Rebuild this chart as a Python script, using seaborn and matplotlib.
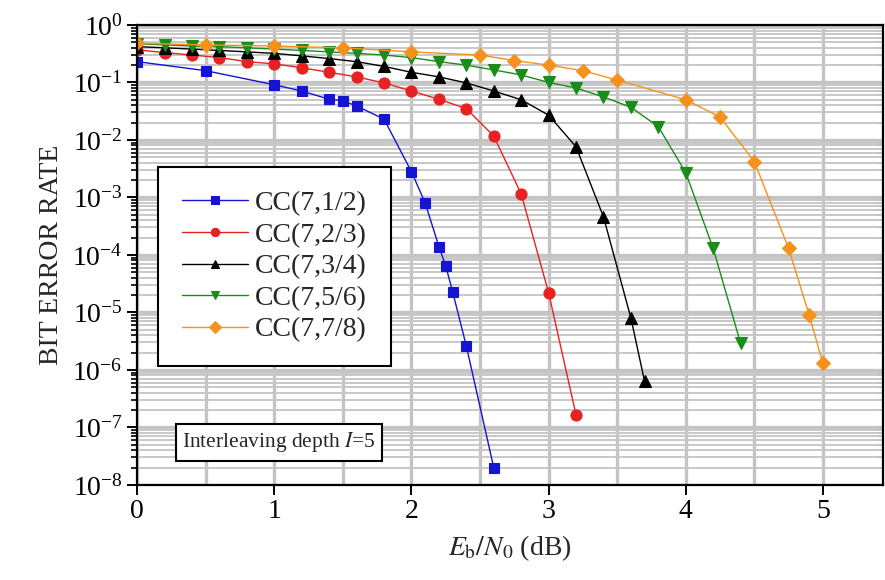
import numpy as np
import pandas as pd
import matplotlib
matplotlib.use("Agg")
import matplotlib.pyplot as plt
import matplotlib.ticker as mticker
import seaborn as sns

# Eb/N0 (dB) and BER for each code rate
snr_12 = [0, 0.5, 1.0, 1.2, 1.4, 1.5, 1.6, 1.8, 2.0, 2.1, 2.2, 2.25, 2.3, 2.4, 2.6]
ber_12 = [0.23, 0.16, 0.091, 0.071, 0.051, 0.048, 0.039, 0.023, 0.0028, 8e-4,
          1.4e-4, 6.4e-5, 2.3e-5, 2.6e-6, 2e-8]

snr_23 = [0, 0.2, 0.4, 0.6, 0.8, 1.0, 1.2, 1.4, 1.6, 1.8, 2.0, 2.2, 2.4, 2.6, 2.8, 3.0, 3.2]
ber_23 = [0.37, 0.33, 0.30, 0.27, 0.23, 0.21, 0.18, 0.15, 0.125, 0.098, 0.071,
          0.051, 0.035, 0.0117, 0.00115, 2.2e-5, 1.65e-7]

snr_34 = [0, 0.2, 0.4, 0.6, 0.8, 1.0, 1.2, 1.4, 1.6, 1.8, 2.0, 2.2, 2.4, 2.6, 2.8,
          3.0, 3.2, 3.4, 3.6, 3.7]
ber_34 = [0.42, 0.40, 0.38, 0.36, 0.34, 0.32, 0.29, 0.26, 0.23, 0.19, 0.15, 0.125,
          0.098, 0.071, 0.05, 0.027, 0.0076, 4.6e-4, 8e-6, 6.3e-7]

snr_56 = [0, 0.2, 0.4, 0.6, 0.8, 1.0, 1.2, 1.4, 1.6, 1.8, 2.0, 2.2, 2.4, 2.6, 2.8,
          3.0, 3.2, 3.4, 3.6, 3.8, 4.0, 4.2, 4.4]
ber_56 = [0.47, 0.45, 0.43, 0.42, 0.40, 0.38, 0.36, 0.34, 0.32, 0.30, 0.27, 0.23,
          0.20, 0.165, 0.135, 0.10, 0.08, 0.056, 0.037, 0.017, 0.0027, 1.3e-4, 2.9e-6]

snr_78 = [0, 0.5, 1.0, 1.5, 2.0, 2.5, 2.75, 3.0, 3.25, 3.5, 4.0, 4.25, 4.5, 4.75, 4.9, 5.0]
ber_78 = [0.48, 0.45, 0.43, 0.40, 0.34, 0.30, 0.24, 0.20, 0.16, 0.11, 0.05, 0.025,
          0.0042, 1.3e-4, 9e-6, 1.3e-6]

labels = ["CC(7,1/2)", "CC(7,2/3)", "CC(7,3/4)", "CC(7,5/6)", "CC(7,7/8)"]
colors = ["#1414d2", "#e82222", "#000000", "#1a8c1a", "#f5921e"]
markers = ["s", "o", "^", "v", "D"]
msizes = [7.5, 8, 8, 8.5, 7.5]

series = [(snr_12, ber_12), (snr_23, ber_23), (snr_34, ber_34),
          (snr_56, ber_56), (snr_78, ber_78)]

sns.set_theme(style="white")
plt.rcParams["font.family"] = ["Liberation Serif", "DejaVu Serif"]
plt.rcParams["mathtext.fontset"] = "stix"

fig = plt.figure(figsize=(8.85, 5.8), dpi=100)
ax = fig.add_axes([0.155, 0.164, 0.843, 0.793])

for (x, y), lab, c, m, ms in zip(series, labels, colors, markers, msizes):
    df = pd.DataFrame({"snr": x, "ber": y})
    sns.lineplot(data=df, x="snr", y="ber", ax=ax, color=c, marker=m,
                 markersize=ms, markeredgecolor=c, markeredgewidth=0.8,
                 linewidth=1.0, label=lab)

ax.set_yscale("log")
ax.set_ylim(1e-8, 1)
ax.set_xlim(0, 5.44)

ax.xaxis.set_major_locator(mticker.MultipleLocator(1))
ax.xaxis.set_minor_locator(mticker.MultipleLocator(0.5))
ax.yaxis.set_major_locator(mticker.LogLocator(base=10, numticks=20))
ax.yaxis.set_minor_locator(mticker.LogLocator(base=10, subs=np.arange(2, 10), numticks=20))
ax.yaxis.set_minor_formatter(mticker.NullFormatter())

ax.grid(True, which="major", axis="both", color="#c4c4c4", linewidth=2.4)
ax.grid(True, which="minor", axis="y", color="#c8c8c8", linewidth=1.4)
ax.grid(True, which="minor", axis="x", color="#c4c4c4", linewidth=2.4)
ax.set_axisbelow(True)

for s in ax.spines.values():
    s.set_color("black")
    s.set_linewidth(1.6)

ax.tick_params(axis="both", which="major", direction="out", length=7, width=1.4,
               colors="black", labelsize=20, bottom=True, left=True)
ax.tick_params(axis="y", which="minor", direction="out", length=4, width=1.2,
               colors="black", left=True)
ax.tick_params(axis="x", which="minor", bottom=False)

top = ax.secondary_xaxis("top")
top.xaxis.set_major_locator(mticker.MultipleLocator(0.5))
top.tick_params(direction="in", length=8, width=1.4, labeltop=False)
right = ax.secondary_yaxis("right")
right.set_yscale("log")
right.yaxis.set_major_locator(mticker.LogLocator(base=10, numticks=20))
right.yaxis.set_minor_locator(mticker.LogLocator(base=10, subs=np.arange(2, 10), numticks=20))
right.tick_params(which="major", direction="in", length=7, width=1.4, labelright=False)
right.tick_params(which="minor", direction="in", length=4, width=1.2, labelright=False)

ax.set_xlabel(r"$E_\mathrm{b}/N_\mathrm{0}$ (dB)", fontsize=20, labelpad=6)
ax.set_ylabel("BIT ERROR RATE", fontsize=20, labelpad=6)

leg = ax.legend(loc="upper left", bbox_to_anchor=(0.028, 0.691), borderaxespad=0,
                fontsize=20, frameon=True, fancybox=False, handlelength=2.4,
                labelspacing=0.22, borderpad=0.85, handletextpad=0.25,
                markerscale=0.75)
leg.get_frame().set_edgecolor("black")
leg.get_frame().set_linewidth(1.5)
leg.get_frame().set_alpha(1)

ax.text(0.19, 0.093, r"Interleaving depth $\mathit{I}$=5", transform=ax.transAxes,
        fontsize=15.5, ha="center", va="center",
        bbox=dict(boxstyle="square,pad=0.3", fc="white", ec="black", lw=1.5))

fig.savefig("out.png", dpi=100)
